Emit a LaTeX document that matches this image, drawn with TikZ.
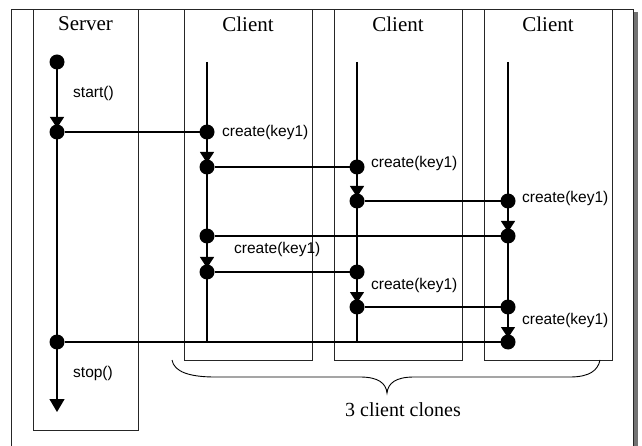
\documentclass[tikz,border=0pt]{standalone}
\usepackage{fontspec}
\setmainfont{Liberation Serif}
\newfontfamily\labfont{Liberation Sans}
\usetikzlibrary{arrows.meta}
\begin{document}
\begin{tikzpicture}[x=1pt,y=-1pt,
  boxline/.style={draw=black!85,line width=0.8pt},
  bigdot/.style={circle,fill=black,inner sep=0pt,outer sep=0pt,minimum size=15pt},
  life/.style={line width=1.2pt},
  msg/.style={line width=1.2pt},
  fire/.style={line width=1.2pt,-{Triangle[width=14pt,length=11pt]},shorten >=4pt},
  title/.style={font=\fontsize{21}{24}\selectfont},
  lab/.style={font=\labfont\fontsize{15.5}{17}\selectfont,inner sep=0pt},
  brtext/.style={font=\fontsize{20}{23}\selectfont}]
\useasboundingbox (0,0) rectangle (642,446);
% frame and shadow
\fill[black!55] (633,12) rectangle (638,446);
\draw[boxline] (11,446) -- (11,9) -- (633,9) -- (633,446);
% lanes
\draw[boxline] (33,9) rectangle (138,430);
\draw[boxline] (184,9) rectangle (312,360);
\draw[boxline] (334,9) rectangle (462,360);
\draw[boxline] (484,9) rectangle (612,360);
\node[title] (tS) at (85.5,24) {Server};
\node[title] (tC1) at (248,24) {Client};
\node[title] (tC2) at (398,24) {Client};
\node[title] (tC3) at (548,24) {Client};
% server lifeline
\node[bigdot] (sA) at (57,62) {};
\node[bigdot] (sB) at (57,132) {};
\node[bigdot] (sC) at (57,342) {};
\coordinate (sE) at (57,412);
% client 1
\coordinate (c1t) at (207,62);
\node[bigdot] (c1a) at (207,132) {};
\node[bigdot] (c1b) at (207,167) {};
\node[bigdot] (c1c) at (207,236) {};
\node[bigdot] (c1d) at (207,272) {};
\coordinate (c1e) at (207,342);
% client 2
\coordinate (c2t) at (357,62);
\node[bigdot] (c2a) at (357,167) {};
\node[bigdot] (c2b) at (357,201) {};
\node[bigdot] (c2c) at (357,272) {};
\node[bigdot] (c2d) at (357,307) {};
\coordinate (c2e) at (357,342);
% client 3
\coordinate (c3t) at (508,62);
\node[bigdot] (c3a) at (508,201) {};
\node[bigdot] (c3b) at (508,236) {};
\node[bigdot] (c3c) at (508,307) {};
\node[bigdot] (c3d) at (508,342) {};
% lifeline segments
\draw[fire] (sA.center) -- (sB.center);
\draw[life] (sB.center) -- (sC.center);
\draw[life,-{Triangle[width=15pt,length=13pt]}] (sC.center) -- (sE);
\draw[life] (c1t) -- (c1a.center);
\draw[fire] (c1a.center) -- (c1b.center);
\draw[life] (c1b.center) -- (c1c.center);
\draw[fire] (c1c.center) -- (c1d.center);
\draw[life] (c1d.center) -- (c1e);
\draw[life] (c2t) -- (c2a.center);
\draw[fire] (c2a.center) -- (c2b.center);
\draw[life] (c2b.center) -- (c2c.center);
\draw[fire] (c2c.center) -- (c2d.center);
\draw[life] (c2d.center) -- (c2e);
\draw[life] (c3t) -- (c3a.center);
\draw[fire] (c3a.center) -- (c3b.center);
\draw[life] (c3b.center) -- (c3c.center);
\draw[fire] (c3c.center) -- (c3d.center);
% messages
\draw[msg] (sB) -- (c1a);
\draw[msg] (c1b) -- (c2a);
\draw[msg] (c2b) -- (c3a);
\draw[msg] (c1c) -- (c3b);
\draw[msg] (c1d) -- (c2c);
\draw[msg] (c2d) -- (c3c);
\draw[msg] (sC) -- (c3d);
% labels
\node[lab,anchor=west] (lstart) at (73,93) {start()};
\node[lab,anchor=west] (lstop) at (73,373) {stop()};
\node[lab,anchor=west] (l1) at (222,132) {create(key1)};
\node[lab,anchor=west] (l2) at (371,163) {create(key1)};
\node[lab,anchor=west] (l3) at (522,198) {create(key1)};
\node[lab,anchor=west] (l4) at (234,249) {create(key1)};
\node[lab,anchor=west] (l5) at (371,285) {create(key1)};
\node[lab,anchor=west] (l6) at (522,320) {create(key1)};
% brace
\draw[line width=0.9pt] (172,360) .. controls (174,372) and (190,377) .. (215,377) -- (360,377)
  .. controls (378,377) and (386,383) .. (387,393)
  .. controls (388,383) and (396,377) .. (414,377) -- (570,377)
  .. controls (590,377) and (598,370) .. (600,360);
\node[brtext] (clones) at (403,410) {3 client clones};
\end{tikzpicture}
\end{document}
